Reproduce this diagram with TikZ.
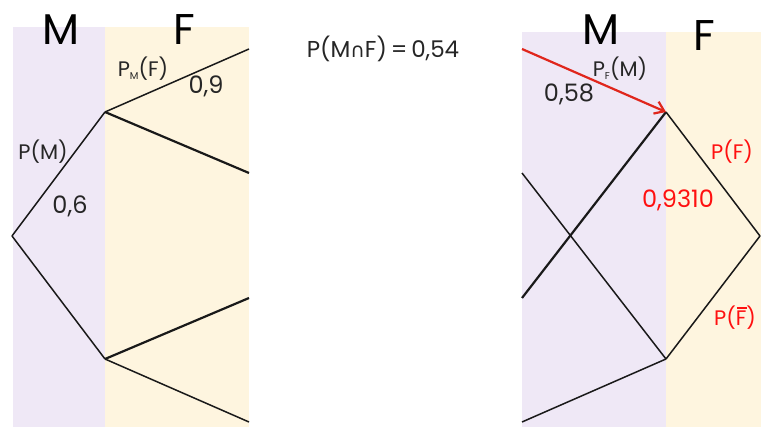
\documentclass[tikz,border=0pt]{standalone}
\usetikzlibrary{arrows.meta}
\usepackage{fontspec}
\setmainfont{Poppins}
\newfontfamily\djv{DejaVu Sans}
\definecolor{lav}{HTML}{EFE8F6}
\definecolor{crem}{HTML}{FEF5DF}
\definecolor{arrred}{HTML}{E0261C}
\definecolor{txtred}{HTML}{FF1010}
\newcommand{\sbs}[1]{\raisebox{-3pt}{\fontsize{10}{10}\selectfont #1}}
\newcommand{\barF}{\makebox[0pt][l]{\hspace{0.05em}\rule[0.82em]{0.5em}{1.3pt}}F}
\begin{document}
\begin{tikzpicture}[x=1pt,y=-1pt,
  br/.style={line width=1.5pt,black!90},
  thk/.style={line width=2.2pt,black!90},
  big/.style={font=\fontsize{43}{43}\selectfont,inner sep=0pt},
  lbl/.style={font=\fontsize{21}{21}\selectfont,inner sep=0pt,text=black!85},
  num/.style={font=\fontsize{24}{24}\selectfont,inner sep=0pt,text=black!85},
  rlbl/.style={font=\fontsize{21}{21}\selectfont,inner sep=0pt,text=txtred},
  rnum/.style={font=\fontsize{24}{24}\selectfont,inner sep=0pt,text=txtred}]
\useasboundingbox (0,0) rectangle (761,427);
% backgrounds
\fill[lav] (13,27) rectangle (105,427);
\fill[crem] (105,27) rectangle (249,427);
\fill[lav] (522,32) rectangle (666,427);
\fill[crem] (666,32) rectangle (761,427);
% left tree
\coordinate (L0) at (12,236);
\coordinate (LM) at (105,112);
\coordinate (LN) at (105,359);
\coordinate (LMF) at (249,49);
\coordinate (LMG) at (249,173);
\coordinate (LNF) at (249,298);
\coordinate (LNG) at (249,422);
\draw[br] (L0) -- (LM);
\draw[br] (L0) -- (LN);
\draw[br] (LM) -- (LMF);
\draw[thk] (LM) -- (LMG);
\draw[thk] (LN) -- (LNF);
\draw[br] (LN) -- (LNG);
% right tree
\coordinate (R0) at (760,236);
\coordinate (RF) at (666,112);
\coordinate (RG) at (666,359);
\coordinate (RFa) at (522,298);
\coordinate (RGa) at (522,173);
\coordinate (RGb) at (522,422);
\coordinate (RA) at (522,49);
\draw[br] (R0) -- (RF);
\draw[br] (R0) -- (RG);
\draw[thk] (RF) -- (RFa);
\draw[br] (RG) -- (RGa);
\draw[br] (RG) -- (RGb);
\draw[line width=2.2pt,arrred,-{Straight Barb[length=9pt,width=13pt,line width=2.2pt]}] (RA) -- (RF);
% left labels
\node[big] (tM1) at (61,30) {M};
\node[big] (tF1) at (184,30) {F};
\node[lbl] (pmf) at (143,69) {P\sbs{M}(F)};
\node[num] (v09) at (206,86) {0,9};
\node[lbl] (pm) at (43,152) {P(M)};
\node[num] (v06) at (70,206) {0,6};
% middle
\node[lbl,font=\fontsize{23}{23}\selectfont] (inter) at (383,49) {P(M{\djv\fontsize{20}{20}\selectfont ∩}F)\,=\,0,54};
% right labels
\node[big] (tM2) at (601,30) {M};
\node[big] (tF2) at (704,36) {F};
\node[lbl] (pfm) at (620,69) {P\sbs{F}(M)};
\node[num] (v058) at (569,94) {0,58};
\node[rlbl] (pf) at (732,152) {P(F)};
\node[rnum] (v931) at (678,200) {0,9310};
\node[rlbl] (pfb) at (735,318) {P(\barF)};
\end{tikzpicture}
\end{document}
